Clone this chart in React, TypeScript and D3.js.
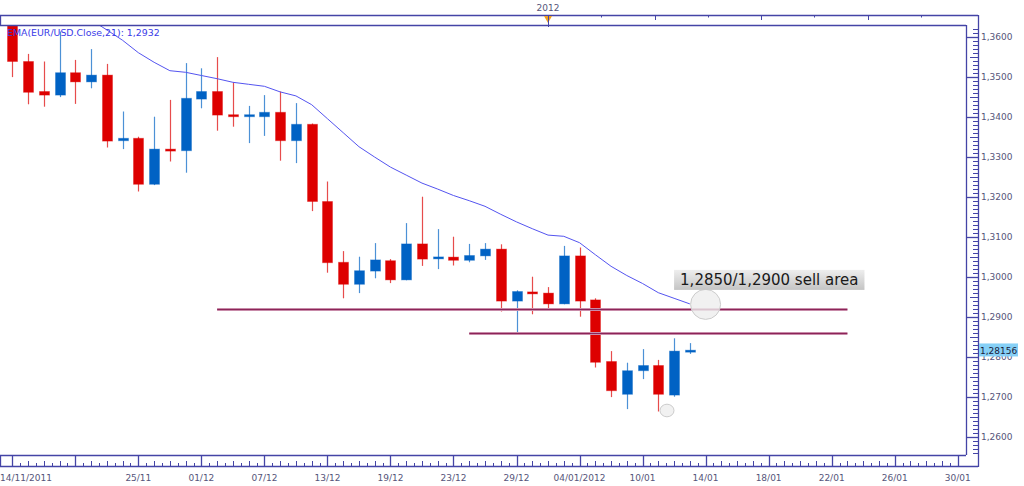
import { useEffect, useRef } from "react";
import * as d3 from "d3";

// daily EUR/USD candles, one per trading day, left to right
const opens = [
  1.364, 1.3538, 1.3463, 1.3454, 1.351, 1.3487, 1.3504, 1.334, 1.3346, 1.3231,
  1.3319, 1.3315, 1.3444, 1.3463, 1.3405, 1.3401, 1.34, 1.3411, 1.334, 1.3381,
  1.3188, 1.3036, 1.2981, 1.3014, 1.304, 1.2992, 1.3082, 1.3045, 1.3049, 1.3041,
  1.3052, 1.3069, 1.2939, 1.2961, 1.2959, 1.2932, 1.3052, 1.2942, 1.2788, 1.2706,
  1.2765, 1.2778, 1.2704, 1.2812,
];
const highs = [
  1.3652, 1.3557, 1.3538, 1.3613, 1.3542, 1.3569, 1.3532, 1.3413, 1.335, 1.34,
  1.3442, 1.3534, 1.3521, 1.3549, 1.3486, 1.3427, 1.3454, 1.3463, 1.3434, 1.3383,
  1.3238, 1.3064, 1.305, 1.3084, 1.3044, 1.3134, 1.32, 1.3119, 1.31, 1.3082,
  1.3084, 1.3081, 1.2966, 1.3, 1.2974, 1.3077, 1.3073, 1.2946, 1.2814, 1.2785,
  1.2819, 1.2792, 1.2846, 1.2834,
];
const lows = [
  1.3499, 1.3431, 1.3425, 1.3449, 1.3432, 1.3471, 1.3323, 1.3319, 1.3213, 1.3229,
  1.3288, 1.326, 1.3421, 1.3365, 1.3375, 1.3334, 1.3352, 1.329, 1.3284, 1.3164,
  1.301, 1.2946, 1.2959, 1.2996, 1.2984, 1.2991, 1.3027, 1.3019, 1.3028, 1.3036,
  1.3042, 1.2913, 1.286, 1.2906, 1.2919, 1.2931, 1.29, 1.2773, 1.2699, 1.2669,
  1.2744, 1.2663, 1.27, 1.2807,
];
const closes = [
  1.3538, 1.3461, 1.3454, 1.351, 1.3487, 1.3504, 1.3339, 1.3346, 1.3231, 1.3319,
  1.3314, 1.3446, 1.3463, 1.3404, 1.34, 1.3404, 1.3411, 1.334, 1.3381, 1.3188,
  1.3035, 1.2981, 1.3015, 1.3042, 1.2992, 1.3082, 1.3044, 1.3049, 1.3041, 1.3053,
  1.3069, 1.2939, 1.2963, 1.2958, 1.2932, 1.3052, 1.2939, 1.2786, 1.2715, 1.2765,
  1.2778, 1.2706, 1.2814, 1.28156,
];

// EMA(21), starting at bar 5
const emaStart = 5;
const ema21 = [
  1.3642, 1.3617, 1.3591, 1.356, 1.3536, 1.3515, 1.3511, 1.3503, 1.3495, 1.3486,
  1.3481, 1.3476, 1.3462, 1.3452, 1.343, 1.3395, 1.336, 1.3325, 1.3299, 1.3274,
  1.3254, 1.3234, 1.3219, 1.3203, 1.319, 1.3176, 1.3156, 1.3137, 1.312, 1.3104,
  1.3101, 1.3085, 1.3055, 1.3026, 1.3003, 1.2983, 1.296, 1.2946, 1.2932,
];

const priceTicks = [1.26, 1.27, 1.28, 1.29, 1.3, 1.31, 1.32, 1.33, 1.34, 1.35, 1.36];
// one label every 4 bars, starting at bar 0
const dateLabels = [
  "14/11/2011", "", "25/11", "01/12", "07/12", "13/12", "19/12", "23/12",
  "29/12", "04/01/2012", "10/01", "14/01", "18/01", "22/01", "26/01", "30/01",
];
const barsPerLabel = 4;

const sellLevels = [1.2919, 1.28585];
const sellFrom = [13, 29];
const sellTo = 53;
const lastPrice = 1.28156;
const emaLabel = "EMA(EUR/USD.Close,21): 1,2932";
const noteText = "1,2850/1,2900 sell area";
const yearLabel = "2012";

const RED = "#dd0000";
const BLUE = "#0062c4";
const FRAME = "#4444a6";
const AXIS_TEXT = "#55557a";
const FONT = "DejaVu Sans, Verdana, sans-serif";

const fmt = (v: number, d = 4) => v.toFixed(d).replace(".", ",");

export default function App() {
  const ref = useRef<SVGSVGElement>(null);

  useEffect(() => {
    if (!ref.current) return;
    const width = 1024;
    const height = 486;
    const plot = { left: 0, right: 966, top: 25, bottom: 455 };
    const outerRight = 978;
    const stripTop = 15;
    const stripBottom = 466;

    const svg = d3.select(ref.current);
    svg.selectAll("*").remove();
    svg.attr("width", width).attr("height", height);

    const x = d3.scaleLinear().domain([0, 60]).range([12.3, 957.7]);
    const y = d3.scaleLinear().domain([1.255425, 1.362925]).range([plot.bottom, plot.top]);
    const nav = d3
      .scaleTime()
      .domain([new Date(2011, 11, 1), new Date(2012, 1, 1)])
      .range([312, 784]);

    svg.append("rect").attr("width", width).attr("height", height).attr("fill", "#fff");

    const defs = svg.append("defs");
    defs
      .append("clipPath")
      .attr("id", "plotclip")
      .append("rect")
      .attr("x", plot.left)
      .attr("y", plot.top)
      .attr("width", plot.right - plot.left)
      .attr("height", plot.bottom - plot.top);
    const grad = defs
      .append("linearGradient")
      .attr("id", "notegrad")
      .attr("x1", 0)
      .attr("y1", 0)
      .attr("x2", 0)
      .attr("y2", 1);
    grad.append("stop").attr("offset", 0).attr("stop-color", "#eeeeee");
    grad.append("stop").attr("offset", 1).attr("stop-color", "#c4c4c4");

    const g = svg.append("g").attr("clip-path", "url(#plotclip)");

    const bars = opens.map((o, i) => ({ i, o, h: highs[i], l: lows[i], c: closes[i] }));
    const color = (d: { o: number; c: number }) => (d.c >= d.o ? BLUE : RED);
    const bw = 10;

    // wicks
    g.append("g")
      .selectAll("line")
      .data(bars)
      .join("line")
      .attr("x1", (d) => Math.round(x(d.i)) + 0.5)
      .attr("x2", (d) => Math.round(x(d.i)) + 0.5)
      .attr("y1", (d) => y(d.h))
      .attr("y2", (d) => y(d.l))
      .attr("stroke", color)
      .attr("stroke-opacity", 0.7)
      .attr("stroke-width", 1.2);

    // bodies
    g.append("g")
      .selectAll("rect")
      .data(bars)
      .join("rect")
      .attr("x", (d) => Math.round(x(d.i)) + 0.5 - bw / 2)
      .attr("width", bw)
      .attr("y", (d) => {
        const top = y(Math.max(d.o, d.c));
        const hgt = Math.abs(y(d.o) - y(d.c));
        return hgt < 2 ? (top + y(Math.min(d.o, d.c))) / 2 - 1 : top;
      })
      .attr("height", (d) => Math.max(2, Math.abs(y(d.o) - y(d.c))))
      .attr("fill", color)
      .attr("stroke", color)
      .attr("stroke-opacity", 0.35)
      .attr("stroke-width", 1);

    // EMA
    const line = d3
      .line<number>()
      .x((_, k) => x(k + emaStart))
      .y((v) => y(v));
    g.append("path")
      .attr("d", line(ema21))
      .attr("fill", "none")
      .attr("stroke", "#5454f0")
      .attr("stroke-width", 1);

    // sell area lines
    sellLevels.forEach((lv, k) => {
      const yy = Math.round(y(lv)) + 0.5;
      g.append("line")
        .attr("x1", x(sellFrom[k]))
        .attr("x2", x(sellTo))
        .attr("y1", yy)
        .attr("y2", yy)
        .attr("stroke", "#dcaec4")
        .attr("stroke-width", 3);
      g.append("line")
        .attr("x1", x(sellFrom[k]))
        .attr("x2", x(sellTo))
        .attr("y1", yy)
        .attr("y2", yy)
        .attr("stroke", "#8c2458")
        .attr("stroke-width", 1.3);
    });

    // marker circles
    g.append("circle")
      .attr("cx", x(44))
      .attr("cy", y(1.29308))
      .attr("r", 15)
      .attr("fill", "#eeeeee")
      .attr("fill-opacity", 0.8)
      .attr("stroke", "#cccccc");
    g.append("ellipse")
      .attr("cx", x(41.55))
      .attr("cy", y(1.26655))
      .attr("rx", 7)
      .attr("ry", 6.3)
      .attr("fill", "#eeeeee")
      .attr("fill-opacity", 0.8)
      .attr("stroke", "#cccccc");

    // note box
    const noteG = g.append("g").attr("transform", `translate(${x(42)},${y(1.3017)})`);
    const noteRect = noteG.append("rect").attr("height", 20).attr("fill", "url(#notegrad)");
    const noteTxt = noteG
      .append("text")
      .attr("x", 6)
      .attr("y", 15)
      .attr("font-family", FONT)
      .attr("font-size", 15)
      .attr("fill", "#1a1a1a")
      .text(noteText);
    const tw = (noteTxt.node() as SVGTextElement).getComputedTextLength();
    noteRect.attr("width", tw + 12);

    // frame
    const frame = svg.append("g").attr("stroke", FRAME).attr("stroke-width", 1.3).attr("fill", "none");
    frame.append("line").attr("x1", 0).attr("x2", outerRight).attr("y1", stripTop + 0.5).attr("y2", stripTop + 0.5);
    frame.append("line").attr("x1", 0).attr("x2", plot.right).attr("y1", plot.top + 0.5).attr("y2", plot.top + 0.5);
    frame.append("line").attr("x1", 0.5).attr("x2", 0.5).attr("y1", stripTop).attr("y2", plot.top);
    frame.append("line").attr("x1", plot.right + 0.5).attr("x2", plot.right + 0.5).attr("y1", plot.top).attr("y2", plot.bottom);
    frame.append("line").attr("x1", outerRight + 0.5).attr("x2", outerRight + 0.5).attr("y1", stripTop).attr("y2", stripBottom + 1);
    frame.append("line").attr("x1", 0).attr("x2", plot.right).attr("y1", plot.bottom + 0.5).attr("y2", plot.bottom + 0.5);
    frame.append("line").attr("x1", 0).attr("x2", outerRight).attr("y1", stripBottom + 0.5).attr("y2", stripBottom + 0.5);
    frame.append("line").attr("x1", 0.5).attr("x2", 0.5).attr("y1", plot.bottom).attr("y2", stripBottom);

    // right axis ticks
    const minor = d3.range(1256, 1363).map((k) => k / 1000);
    frame
      .append("g")
      .attr("stroke-width", 1)
      .selectAll("line")
      .data(minor)
      .join("line")
      .attr("x1", (d) => (Math.round(d * 1000) % 5 === 0 ? outerRight - 8 : outerRight - 5))
      .attr("x2", outerRight)
      .attr("y1", (d) => Math.round(y(d)) + 0.5)
      .attr("y2", (d) => Math.round(y(d)) + 0.5);
    frame
      .append("g")
      .selectAll("line")
      .data(priceTicks)
      .join("line")
      .attr("x1", plot.right)
      .attr("x2", outerRight)
      .attr("y1", (d) => Math.round(y(d)) + 0.5)
      .attr("y2", (d) => Math.round(y(d)) + 0.5);

    svg
      .append("g")
      .selectAll("text")
      .data(priceTicks)
      .join("text")
      .attr("x", outerRight + 3)
      .attr("y", (d) => y(d))
      .attr("dy", "0.35em")
      .attr("font-family", FONT)
      .attr("font-size", 9)
      .attr("fill", AXIS_TEXT)
      .text((d) => fmt(d));

    // bottom axis ticks
    const halfSteps = d3.range(0, 121).map((k) => k / 2);
    frame
      .append("g")
      .attr("stroke-width", 1)
      .selectAll("line")
      .data(halfSteps.filter((d) => d % barsPerLabel !== 0))
      .join("line")
      .attr("x1", (d) => Math.round(x(d)) + 0.5)
      .attr("x2", (d) => Math.round(x(d)) + 0.5)
      .attr("y1", (d) => (Number.isInteger(d) ? stripBottom - 5 : stripBottom - 3))
      .attr("y2", stripBottom);
    frame
      .append("g")
      .selectAll("line")
      .data(dateLabels)
      .join("line")
      .attr("x1", (_, k) => Math.round(x(k * barsPerLabel)) + 0.5)
      .attr("x2", (_, k) => Math.round(x(k * barsPerLabel)) + 0.5)
      .attr("y1", plot.bottom)
      .attr("y2", stripBottom);

    svg
      .append("g")
      .selectAll("text")
      .data(dateLabels)
      .join("text")
      .attr("font-family", FONT)
      .attr("font-size", 9)
      .attr("fill", AXIS_TEXT)
      .attr("y", 480.5)
      .attr("x", (_, k) => x(k * barsPerLabel))
      .attr("text-anchor", "middle")
      .text((d) => d)
      .each(function (_, k) {
        const t = this as SVGTextElement;
        const w = t.getComputedTextLength();
        const cx = x(k * barsPerLabel);
        if (cx - w / 2 < 0) d3.select(t).attr("text-anchor", "start").attr("x", 0);
      });

    // navigator strip ticks and year marker
    const weeks = d3.timeWeek.range(new Date(2012, 0, 2), new Date(2012, 1, 25));
    frame
      .append("g")
      .attr("stroke-width", 1)
      .selectAll("line")
      .data(weeks)
      .join("line")
      .attr("x1", (d) => Math.round(nav(d)) + 0.5)
      .attr("x2", (d) => Math.round(nav(d)) + 0.5)
      .attr("y1", stripTop)
      .attr("y2", (_, k) => stripTop + (k % 2 === 0 ? 2.5 : 5));
    const yx = nav(new Date(2012, 0, 1));
    svg
      .append("path")
      .attr("d", `M${yx - 4},${stripTop + 1}L${yx + 4},${stripTop + 1}L${yx},${stripTop + 8}Z`)
      .attr("fill", "#f0a020");
    svg
      .append("line")
      .attr("x1", Math.round(yx) + 0.5)
      .attr("x2", Math.round(yx) + 0.5)
      .attr("y1", stripTop)
      .attr("y2", plot.top + 2)
      .attr("stroke", FRAME)
      .attr("stroke-width", 1);
    svg
      .append("text")
      .attr("x", yx)
      .attr("y", 10.5)
      .attr("text-anchor", "middle")
      .attr("font-family", FONT)
      .attr("font-size", 9)
      .attr("fill", AXIS_TEXT)
      .text(yearLabel);

    // EMA legend
    svg
      .append("text")
      .attr("x", 7)
      .attr("y", 35.5)
      .attr("font-family", FONT)
      .attr("font-size", 9.4)
      .attr("fill", "#3a3ae8")
      .text(emaLabel);

    // last price tag
    const py = y(lastPrice);
    svg
      .append("rect")
      .attr("x", outerRight + 1)
      .attr("y", py - 7)
      .attr("width", 39)
      .attr("height", 13)
      .attr("fill", "#86d0f6");
    svg
      .append("text")
      .attr("x", outerRight + 2)
      .attr("y", py)
      .attr("dy", "0.35em")
      .attr("font-family", FONT)
      .attr("font-size", 9)
      .attr("fill", "#1a1a3a")
      .text(fmt(lastPrice, 5));
  }, []);

  return (
    <div style={{ position: "absolute", left: 0, top: 0 }}>
      <svg ref={ref} style={{ display: "block" }} />
    </div>
  );
}
